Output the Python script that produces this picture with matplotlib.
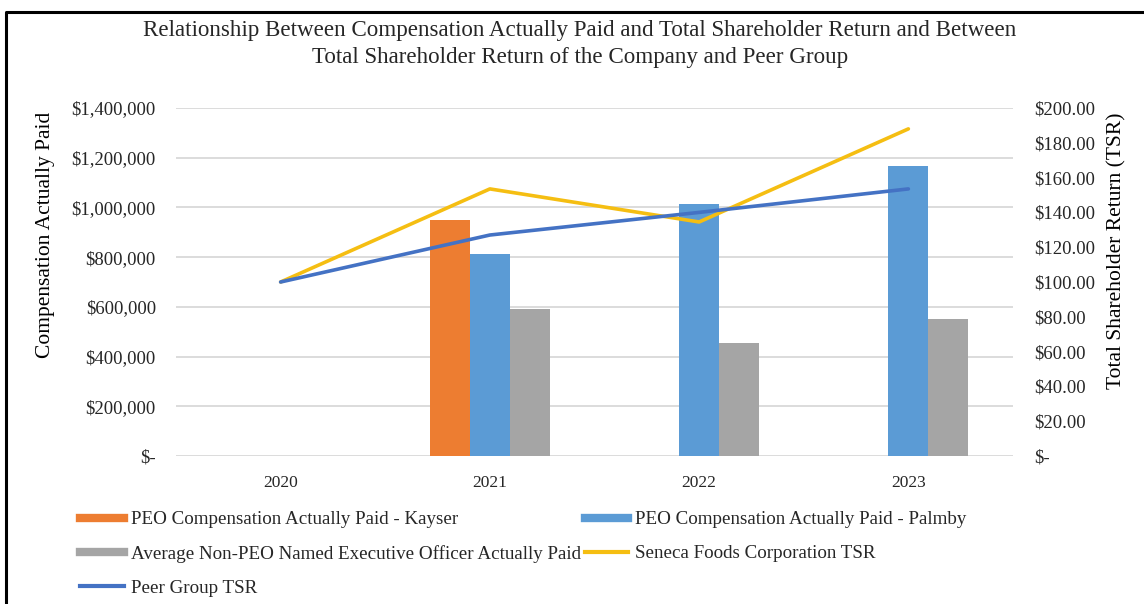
#!/usr/bin/env python3
"""Compensation actually paid vs TSR (company and peer group), 2020-2023."""

import matplotlib

matplotlib.use("Agg")
import matplotlib.pyplot as plt
import numpy as np
from matplotlib.lines import Line2D
from matplotlib.ticker import FuncFormatter

YEARS = ["2020", "2021", "2022", "2023"]
CAP_KAYSER = [np.nan, 950000, np.nan, np.nan]
CAP_PALMBY = [np.nan, 812000, 1012000, 1168000]
CAP_NON_PEO = [np.nan, 592000, 455000, 552000]
TSR_SENECA = [100.0, 153.5, 134.5, 188.0]
TSR_PEER = [100.0, 127.0, 140.0, 153.5]

C_ORANGE = "#ED7D31"
C_BLUE = "#5B9BD5"
C_GRAY = "#A5A5A5"
C_YELLOW = "#F5BE12"
C_PEER = "#4472C4"

FONT = ["Liberation Serif", "DejaVu Serif"]
plt.rcParams["font.family"] = FONT
plt.rcParams["text.color"] = "#262626"


def _money0(v, _pos):
    return "$-" if abs(v) < 1e-9 else f"${v:,.0f}"


def _money2(v, _pos):
    return "$-" if abs(v) < 1e-9 else f"${v:,.2f}"


fig = plt.figure(figsize=(11.44, 6.04), dpi=100)
ax = fig.add_axes([176 / 1144, 1 - 456 / 604, (1013 - 176) / 1144, (456 - 108) / 604])
ax2 = ax.twinx()

x = np.arange(len(YEARS))
w = 0.19
ax.bar(x - w, CAP_KAYSER, w, color=C_ORANGE, zorder=2)
ax.bar(x, CAP_PALMBY, w, color=C_BLUE, zorder=2)
ax.bar(x + w, CAP_NON_PEO, w, color=C_GRAY, zorder=2)

ax2.plot(x, TSR_SENECA, color=C_YELLOW, lw=2.6, solid_capstyle="round")
ax2.plot(x, TSR_PEER, color=C_PEER, lw=2.6, solid_capstyle="round")

ax.set_xlim(-0.5, 3.5)
ax.set_ylim(0, 1400000)
ax.set_yticks(np.arange(0, 1400001, 200000))
ax.yaxis.set_major_formatter(FuncFormatter(_money0))
ax2.set_ylim(0, 200)
ax2.set_yticks(np.arange(0, 201, 20))
ax2.yaxis.set_major_formatter(FuncFormatter(_money2))
for t in ax2.get_yticklabels():
    t.set_horizontalalignment("left")

ax.set_xticks(x)
ax.set_xticklabels(YEARS)
ax.grid(axis="y", color="#D9D9D9", lw=1.3, zorder=0)
ax.set_axisbelow(True)
for a in (ax, ax2):
    for s in a.spines.values():
        s.set_visible(False)
ax.tick_params(axis="y", length=0, pad=14.5, labelsize=13.5, labelcolor="#262626")
ax.tick_params(axis="x", length=0, pad=14, labelsize=12.5, labelcolor="#262626")
ax2.tick_params(axis="y", length=0, pad=15.5, labelsize=13.5, labelcolor="#262626")

ax.set_ylabel("Compensation Actually Paid", fontsize=15.5)
ax.yaxis.set_label_coords(-0.1446, 0.635)
ax2.set_ylabel("Total Shareholder Return (TSR)", fontsize=15.5)
ax2.yaxis.set_label_coords(1.112, 0.59)

fig.text(0.507, 0.950, "Relationship Between Compensation Actually Paid and Total Shareholder Return and Between",
         ha="center", va="center", fontsize=16.6)
fig.text(0.507, 0.904, "Total Shareholder Return of the Company and Peer Group",
         ha="center", va="center", fontsize=16.6)

handles = [
    Line2D([], [], color=C_ORANGE, lw=6),
    Line2D([], [], color=C_GRAY, lw=6),
    Line2D([], [], color=C_PEER, lw=3),
    Line2D([], [], color=C_BLUE, lw=6),
    Line2D([], [], color=C_YELLOW, lw=3),
]
labels = [
    "PEO Compensation Actually Paid - Kayser",
    "Average Non-PEO Named Executive Officer Actually Paid",
    "Peer Group TSR",
    "PEO Compensation Actually Paid - Palmby",
    "Seneca Foods Corporation TSR",
]
fig.legend(handles, labels, ncol=2, loc="upper left", bbox_to_anchor=(80 / 1144, 1 - 511 / 604),
           frameon=False, fontsize=13.7, handlelength=2.3, handletextpad=0.37,
           columnspacing=0.2, labelspacing=0.87, borderpad=0, borderaxespad=0)

# frame on the top and left like the source image
fig.add_artist(Line2D([6 / 1144, 6 / 1144, 1.0], [0, 1 - 12 / 604, 1 - 12 / 604],
                      transform=fig.transFigure, color="black", lw=2.2))

fig.savefig("out.png", dpi=100)
